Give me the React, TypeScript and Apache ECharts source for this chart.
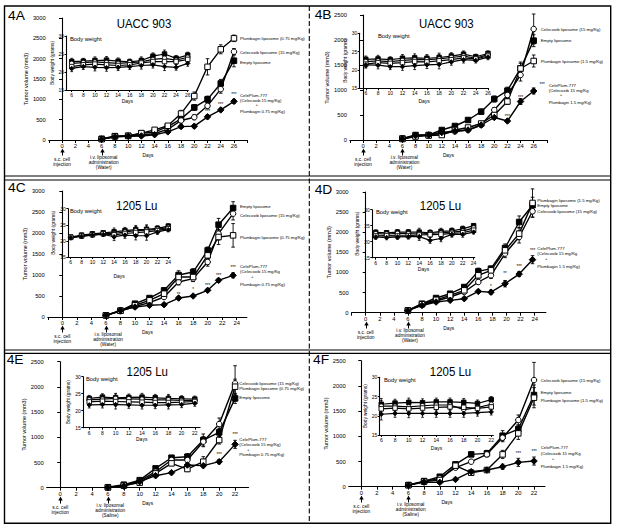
import React, { useEffect, useRef } from "react";
import * as echarts from "echarts";

const FONT = "Liberation Sans, Arial, Helvetica, sans-serif";

// ---------------- 4A  UACC 903 ----------------
const daysA = [6, 8, 10, 12, 14, 16, 18, 20, 22, 24, 26];
const aEmpty = [30, 95, 105, 160, 200, 330, 520, 800, 1000, 1390, 1950];
const aEmptyErr = [10, 20, 20, 30, 35, 45, 60, 70, 80, 100, 150];
const aCele = [25, 80, 100, 120, 160, 260, 480, 560, 840, 1250, 2170];
const aCeleErr = [10, 20, 20, 25, 30, 40, 60, 60, 70, 100, 80];
const aPlum = [20, 90, 100, 170, 250, 350, 650, 1080, 1800, 2230, 2500];
const aPlumErr = [10, 20, 20, 30, 40, 50, 80, 100, 200, 110, 80];
const aCombo = [20, 80, 90, 100, 130, 200, 330, 340, 570, 740, 950];
const aComboErr = [10, 15, 15, 20, 25, 30, 40, 40, 50, 40, 50];
const aSig = [[22, 690, "***"], [24, 880, "***"], [26, 1110, "***"]];
const aInDays = [6, 8, 10, 12, 14, 16, 18, 20, 22, 24, 26];
const aIn1 = [22.9, 23.0, 23.2, 23.3, 23.0, 22.8, 23.2, 24.4, 25.0, 23.8, 24.7];
const aIn2 = [22.4, 22.6, 22.8, 22.6, 22.4, 22.6, 22.8, 23.5, 23.8, 23.3, 24.1];
const aIn3 = [21.5, 22.0, 22.2, 22.0, 21.8, 22.0, 22.5, 22.9, 22.9, 22.9, 23.5];
const aIn4 = [21.0, 21.5, 21.3, 21.2, 21.3, 21.5, 21.8, 22.0, 21.5, 21.3, 22.4];
const aInErr = [0.9, 0.8, 1.0, 1.0, 0.9, 0.8, 1.0, 0.9, 1.1, 0.8, 0.8];
const aLegend = ["Plumbagin liposome (0.75 mg/Kg)", "Celecoxib liposome (15 mg/Kg)", "Empty liposome", "CelePlum-777", "(Celecoxib 15 mg/Kg)", "+", "Plumbagin 0.75 mg/Kg)"];

// ---------------- 4B  UACC 903 ----------------
const daysB = [6, 8, 10, 12, 14, 16, 18, 20, 22, 24, 26];
const bEmpty = [30, 100, 100, 200, 280, 400, 567, 820, 987, 1433, 1987];
const bEmptyErr = [10, 20, 20, 30, 30, 40, 50, 60, 70, 100, 120];
const bCele = [25, 80, 100, 130, 170, 200, 300, 600, 900, 1300, 2220];
const bCeleErr = [10, 15, 20, 20, 25, 30, 40, 50, 70, 120, 300];
const bPlum = [20, 70, 90, 100, 200, 250, 330, 500, 770, 1430, 1580];
const bPlumErr = [10, 15, 20, 20, 25, 30, 40, 50, 60, 130, 120];
const bCombo = [20, 90, 100, 150, 180, 200, 300, 450, 380, 770, 980];
const bComboErr = [10, 15, 15, 20, 20, 25, 30, 40, 30, 60, 60];
const bSig = [[22, 480, "***"], [24, 850, "***"], [27.3, 1110, "***"]];
const bInDays = [6, 8, 10, 12, 14, 16, 18, 20, 22, 24, 26];
const bIn1 = [22.9, 23.0, 22.8, 23.2, 23.3, 23.2, 23.4, 23.8, 24.3, 23.6, 24.5];
const bIn2 = [22.3, 22.5, 22.3, 22.6, 22.8, 22.8, 23.0, 23.4, 23.8, 23.2, 24.2];
const bIn3 = [21.6, 22.0, 21.8, 22.0, 22.3, 22.2, 22.5, 22.8, 23.3, 23.0, 23.8];
const bIn4 = [21.4, 21.3, 20.9, 20.9, 21.2, 21.4, 21.5, 22.2, 22.8, 22.6, 23.5];
const bInErr = [0.9, 1.0, 0.8, 1.0, 1.1, 1.0, 1.2, 0.9, 0.9, 0.7, 0.7];
const bLegend = ["Celecoxib liposome (15 mg/Kg)", "Empty liposome", "Plumbagin liposome (1.5 mg/Kg)", "CelePlum-777", "(Celecoxib 15 mg/Kg", "+", "Plumbagin 1.5 mg/Kg)"];

// ---------------- 4C  1205 Lu ----------------
const daysC = [6, 8, 10, 12, 14, 16, 18, 20, 21.5, 23.5];
const cEmpty = [40, 150, 317, 452, 635, 1000, 1071, 1587, 2198, 2595];
const cEmptyErr = [15, 20, 30, 40, 50, 100, 80, 80, 150, 150];
const cCele = [35, 140, 250, 341, 476, 833, 913, 1310, 1984, 2460];
const cCeleErr = [15, 20, 25, 30, 40, 70, 70, 100, 150, 150];
const cPlum = [40, 150, 280, 397, 555, 952, 952, 1468, 1905, 1944];
const cPlumErr = [15, 20, 25, 30, 40, 70, 100, 100, 180, 280];
const cCombo = [40, 159, 238, 278, 294, 452, 500, 635, 873, 992];
const cComboErr = [15, 20, 20, 25, 25, 30, 30, 30, 40, 60];
const cSig = [[16, 540, "**"], [18, 660, "*"], [20, 760, "***"], [21.5, 1000, "***"], [23.5, 1190, "***"]];
const cInDays = [6, 8, 10, 12, 14, 16, 18, 20, 22, 24];
const cIn1 = [21.2, 21.8, 22.2, 22.5, 22.8, 23.2, 23.5, 23.6, 23.9, 24.6];
const cIn2 = [21.0, 21.6, 22.0, 22.3, 22.3, 22.8, 23.2, 23.3, 23.6, 24.2];
const cIn3 = [21.1, 21.5, 21.9, 22.2, 21.9, 22.3, 22.6, 22.8, 23.2, 23.8];
const cIn4 = [21.0, 21.4, 21.8, 22.0, 21.3, 21.8, 21.6, 21.6, 22.8, 23.5];
const cInErr = [0.5, 0.6, 0.6, 0.6, 1.2, 1.0, 1.3, 1.4, 0.8, 0.7];
const cLegend = ["Empty liposome", "Celecoxib liposome (15 mg/Kg)", "Plumbagin liposome (0.75 mg/Kg)", "CelePlum-777", "(Celecoxib 15 mg/Kg", "+", "Plumbagin 0.75 mg/Kg)"];

// ---------------- 4D  1205 Lu ----------------
const daysD = [6, 8, 10, 12, 14, 16, 17.8, 19.8, 21.8, 23.7];
const dEmpty = [58, 224, 365, 472, 638, 1028, 1094, 1609, 2255, 2670];
const dEmptyErr = [15, 30, 30, 40, 50, 80, 60, 100, 150, 200];
const dCele = [50, 200, 290, 390, 514, 763, 929, 1468, 1882, 2521];
const dCeleErr = [15, 30, 30, 30, 40, 60, 80, 100, 150, 150];
const dPlum = [55, 210, 320, 431, 556, 929, 1053, 1550, 1965, 2728];
const dPlumErr = [15, 30, 30, 40, 50, 70, 100, 100, 150, 350];
const dCombo = [50, 180, 265, 307, 348, 530, 510, 721, 960, 1318];
const dComboErr = [15, 25, 25, 30, 30, 30, 50, 80, 60, 100];
const dSig = [[17.8, 640, "*"], [19.8, 970, "**"], [21.8, 1150, "***"], [23.7, 1550, "***"]];
const dInDays = [6, 8, 10, 12, 14, 16, 18, 20, 22, 24];
const dIn1 = [22.9, 22.8, 23.0, 23.0, 23.0, 22.8, 23.2, 23.4, 24.0, 25.0];
const dIn2 = [22.5, 22.4, 22.6, 22.5, 22.4, 22.6, 22.8, 23.0, 23.3, 24.3];
const dIn3 = [21.8, 21.9, 21.8, 21.9, 22.1, 22.2, 22.3, 22.6, 22.8, 23.6];
const dIn4 = [21.5, 21.3, 21.5, 21.6, 21.6, 20.4, 21.0, 22.3, 22.3, 23.0];
const dInErr = [0.8, 0.7, 0.8, 0.8, 1.2, 0.9, 1.0, 0.9, 0.9, 0.6];
const dLegend = ["Plumbagin liposome (1.5 mg/Kg)", "Empty liposome", "Celecoxib liposome (15 mg/Kg)", "CelePlum-777", "(Celecoxib 15 mg/Kg", "+", "Plumbagin 1.5 mg/Kg)"];

// ---------------- 4E  1205 Lu ----------------
const daysE = [6, 8, 10, 12, 14, 16, 18, 20, 22];
const eEmpty = [10, 60, 150, 384, 595, 615, 946, 1098, 1772];
const eEmptyErr = [5, 15, 25, 30, 40, 60, 120, 80, 100];
const eCele = [5, 50, 130, 317, 549, 549, 913, 1263, 2070];
const eCeleErr = [5, 15, 20, 30, 40, 50, 100, 120, 350];
const ePlum = [5, 40, 100, 284, 483, 370, 516, 946, 2004];
const ePlumErr = [5, 15, 20, 30, 40, 50, 100, 80, 150];
const eCombo = [5, 30, 120, 238, 298, 450, 437, 516, 860];
const eComboErr = [5, 10, 15, 20, 20, 40, 40, 40, 80];
const eSig = [[20, 665, "***"], [22, 1050, "***"]];
const eInDays = [6, 8, 10, 12, 14, 16, 18, 20, 22];
const eIn1 = [23.6, 24.0, 23.8, 23.9, 24.0, 23.8, 23.6, 23.5, 23.4];
const eIn2 = [23.2, 23.4, 23.6, 23.5, 23.4, 23.2, 23.2, 23.0, 23.0];
const eIn3 = [22.6, 22.8, 22.7, 22.6, 22.5, 22.4, 22.4, 22.5, 22.7];
const eIn4 = [21.7, 21.8, 21.8, 21.7, 21.6, 21.6, 21.7, 21.8, 22.2];
const eInErr = [0.9, 1.0, 1.3, 1.0, 1.1, 1.0, 1.2, 0.9, 0.9];
const eLegend = ["Celecoxib liposome (15 mg/Kg)", "Plumbagin liposome (0.75 mg/Kg)", "Empty liposome", "CelePlum-777", "(Celecoxib 15 mg/Kg)", "+", "Plumbagin 0.75 mg/Kg)"];

// ---------------- 4F  1205 Lu ----------------
const daysF = [6, 8, 10, 12, 14, 16, 18, 20, 22];
const fEmpty = [33, 112, 198, 443, 641, 661, 1012, 1144, 1819];
const fEmptyErr = [10, 15, 25, 30, 30, 60, 100, 80, 200];
const fCele = [30, 100, 165, 377, 496, 641, 972, 1323, 2116];
const fCeleErr = [10, 15, 20, 30, 30, 50, 80, 100, 350];
const fPlum = [30, 100, 132, 417, 278, 331, 641, 1058, 1766];
const fPlumErr = [10, 15, 20, 30, 30, 40, 80, 120, 200];
const fCombo = [30, 90, 86, 145, 298, 331, 397, 483, 509];
const fComboErr = [10, 15, 15, 20, 30, 30, 50, 80, 80];
const fSig = [[20, 665, "***"], [22, 690, "***"]];
const fInDays = [6, 8, 10, 12, 14, 16, 18, 20, 22];
const fIn1 = [23.0, 23.3, 23.5, 23.4, 23.6, 23.6, 23.5, 23.2, 24.2];
const fIn2 = [22.5, 22.5, 22.3, 22.6, 22.8, 22.8, 21.6, 22.1, 23.0];
const fIn3 = [21.8, 22.0, 21.8, 22.0, 22.2, 22.3, 22.2, 21.9, 22.3];
const fIn4 = [20.4, 20.6, 20.6, 20.6, 20.6, 20.6, 20.6, 20.8, 21.0];
const fInErr = [1.5, 1.0, 1.1, 1.0, 1.0, 1.0, 1.0, 0.9, 0.8];
const fLegend = ["Celecoxib liposome (15 mg/Kg)", "Empty liposome", "Plumbagin liposome (1.5 mg/Kg)", "CelePlum-777", "(Celecoxib 15 mg/Kg", "+", "Plumbagin 1.5 mg/Kg)"];

const kindStyle: any = {
  empty: { symbol: "rect", fill: "#000" },
  cele: { symbol: "circle", fill: "#fff" },
  plum: { symbol: "rect", fill: "#fff" },
  combo: { symbol: "diamond", fill: "#000" },
};

const panels: any[] = [
  {
    tag: "4A", title: "UACC 903", vehicle: "(Water)", days: daysA, sig: aSig, legend: aLegend,
    series: [
      { kind: "empty", v: aEmpty, e: aEmptyErr }, { kind: "cele", v: aCele, e: aCeleErr },
      { kind: "plum", v: aPlum, e: aPlumErr }, { kind: "combo", v: aCombo, e: aComboErr },
    ],
    inDays: aInDays, inSeries: [["empty", aIn1], ["cele", aIn2], ["plum", aIn3], ["combo", aIn4]], inErr: aInErr,
    main: { left: 48.8, top: 18, width: 198.4, height: 122, xMin: -2, xMax: 28, yMax: 3000, last: 26, gapY: 19 },
    inset: { left: 66.5, top: 36, width: 121.8, height: 54, xMin: 5.1, xMax: 26.1, last: 26, gapX: 8 },
    titlePos: [144, 23.7], tagPos: [8, 16], bw: [70, 38.5],
    lx: 240, cx: 240, ly: [38, 52, 62, 95, 100, 104.3, 111.7], px: 256.7,
  },
  {
    tag: "4B", title: "UACC 903", vehicle: "(Water)", days: daysB, sig: bSig, legend: bLegend,
    series: [
      { kind: "empty", v: bEmpty, e: bEmptyErr }, { kind: "cele", v: bCele, e: bCeleErr },
      { kind: "plum", v: bPlum, e: bPlumErr }, { kind: "combo", v: bCombo, e: bComboErr },
    ],
    inDays: bInDays, inSeries: [["empty", bIn1], ["cele", bIn2], ["plum", bIn3], ["combo", bIn4]], inErr: bInErr,
    main: { left: 349.9, top: 15, width: 196.9, height: 125, xMin: -2, xMax: 28, yMax: 2500, last: 26, gapY: 18 },
    inset: { left: 359.7, top: 33.3, width: 128.9, height: 55, xMin: 5.0, xMax: 26.1, last: 26, gapX: 10 },
    titlePos: [446.3, 23.3], tagPos: [314.7, 15.2], bw: [378, 35.5],
    lx: 540.7, cx: 548.7, ly: [29, 40.7, 61.7, 85, 90, 94.3, 102.7], px: 561,
  },
  {
    tag: "4C", title: "1205 Lu", vehicle: "(Water)", days: daysC, sig: cSig, legend: cLegend,
    series: [
      { kind: "empty", v: cEmpty, e: cEmptyErr }, { kind: "cele", v: cCele, e: cCeleErr },
      { kind: "plum", v: cPlum, e: cPlumErr }, { kind: "combo", v: cCombo, e: cComboErr },
    ],
    inDays: cInDays, inSeries: [["empty", cIn1], ["cele", cIn2], ["plum", cIn3], ["combo", cIn4]], inErr: cInErr,
    main: { left: 47.8, top: 191, width: 199.1, height: 126, xMin: -2, xMax: 25.4, yMax: 3000, last: 24, gapY: 16 },
    inset: { left: 68.3, top: 208.7, width: 101.6, height: 48.3, xMin: 5.55, xMax: 24.3, last: 24, gapX: 16 },
    titlePos: [136.7, 205.3], tagPos: [8, 188], bw: [70, 211],
    lx: 240, cx: 240, ly: [206.3, 215.3, 237.7, 266.5, 271.5, 276.3, 284.3], px: 252.3,
  },
  {
    tag: "4D", title: "1205 Lu", vehicle: "(Water)", days: daysD, sig: dSig, legend: dLegend,
    series: [
      { kind: "empty", v: dEmpty, e: dEmptyErr }, { kind: "cele", v: dCele, e: dCeleErr },
      { kind: "plum", v: dPlum, e: dPlumErr }, { kind: "combo", v: dCombo, e: dComboErr },
    ],
    inDays: dInDays, inSeries: [["empty", dIn1], ["cele", dIn2], ["plum", dIn3], ["combo", dIn4]], inErr: dInErr,
    main: { left: 351.6, top: 192, width: 194.3, height: 120.7, xMin: -2, xMax: 25.6, yMax: 3000, last: 24, gapY: 18 },
    inset: { left: 372.3, top: 209.7, width: 102.4, height: 48, xMin: 5.37, xMax: 24.2, last: 24, gapX: 8.5 },
    titlePos: [440.5, 205.3], tagPos: [314.7, 190], bw: [376, 212],
    lx: 537.3, cx: 537.3, ly: [200.3, 205.7, 211.3, 248.7, 253.7, 258, 266.3], px: 546.3,
  },
  {
    tag: "4E", title: "1205 Lu", vehicle: "(Saline)", days: daysE, sig: eSig, legend: eLegend,
    series: [
      { kind: "empty", v: eEmpty, e: eEmptyErr }, { kind: "cele", v: eCele, e: eCeleErr },
      { kind: "plum", v: ePlum, e: ePlumErr }, { kind: "combo", v: eCombo, e: eComboErr },
    ],
    inDays: eInDays, inSeries: [["empty", eIn1], ["cele", eIn2], ["plum", eIn3], ["combo", eIn4]], inErr: eInErr,
    main: { left: 46.7, top: 361.7, width: 201.9, height: 126, xMin: -1.7, xMax: 23.7, yMax: 2500, last: 22, gapY: 19 },
    inset: { left: 83.3, top: 376.7, width: 116.8, height: 51, xMin: 5.1, xMax: 22.8, last: 22, gapX: 9 },
    titlePos: [147.2, 371.7], tagPos: [6.7, 360.3], bw: [86, 378.5],
    lx: 239.3, cx: 239.3, ly: [383.3, 388.3, 397.7, 439.3, 444.3, 449.3, 454.3], px: 248.3,
  },
  {
    tag: "4F", title: "1205 Lu", vehicle: "(Saline)", days: daysF, sig: fSig, legend: fLegend,
    series: [
      { kind: "empty", v: fEmpty, e: fEmptyErr }, { kind: "cele", v: fCele, e: fCeleErr },
      { kind: "plum", v: fPlum, e: fPlumErr }, { kind: "combo", v: fCombo, e: fComboErr },
    ],
    inDays: fInDays, inSeries: [["empty", fIn1], ["cele", fIn2], ["plum", fIn3], ["combo", fIn4]], inErr: fInErr,
    main: { left: 348.7, top: 360.7, width: 196.3, height: 126, xMin: -1.6, xMax: 23.4, yMax: 2500, last: 22, gapY: 19 },
    inset: { left: 379.7, top: 377.3, width: 113.6, height: 57.7, xMin: 5.77, xMax: 22.3, last: 22, gapX: 10 },
    titlePos: [450.5, 371.7], tagPos: [313, 360], bw: [384, 379.5],
    lx: 540.7, cx: 540.7, ly: [380, 392.7, 400, 447.7, 453.3, 458.3, 466.7], px: 553,
  },
];

const evens = (a: number, b: number, from?: number) => {
  const r: number[] = [];
  const start = from !== undefined ? from : Math.ceil(a / 2) * 2;
  for (let v = start; v <= b + 1e-9; v += 2) r.push(v);
  return r;
};

const errRender = (cap: number, lw: number) => (params: any, api: any) => {
  const x = api.value(0), y = api.value(1), e = api.value(2);
  const lo = api.coord([x, y - e]);
  const hi = api.coord([x, y + e]);
  const st = { stroke: "#000", lineWidth: lw };
  return {
    type: "group",
    children: [
      { type: "line", shape: { x1: lo[0], y1: lo[1], x2: hi[0], y2: hi[1] }, style: st },
      { type: "line", shape: { x1: lo[0] - cap, y1: lo[1], x2: lo[0] + cap, y2: lo[1] }, style: st },
      { type: "line", shape: { x1: hi[0] - cap, y1: hi[1], x2: hi[0] + cap, y2: hi[1] }, style: st },
    ],
  };
};

const sigRender = (items: any[]) => (params: any, api: any) => {
  const it = items[params.dataIndex];
  const p = api.coord([it[0], it[1]]);
  return {
    type: "text", x: p[0], y: p[1],
    style: { text: String(it[2]), fontSize: 4.5, fill: "#000", align: "center", verticalAlign: "middle", fontFamily: FONT },
  };
};

const axisLine = { show: true, lineStyle: { color: "#000", width: 1.1 } };
const plain = (v: number) => String(v);

function buildOption() {
  const grid: any[] = [], xAxis: any[] = [], yAxis: any[] = [], series: any[] = [], graphic: any[] = [];
  const txt = (x: number, y: number, text: string, fontSize: number, align = "left", extra: any = {}) => ({
    type: "text", x, y, silent: true, ...extra,
    style: { text, fontSize, fill: "#000", align, verticalAlign: "middle", fontFamily: FONT },
  });

  panels.forEach((p, i) => {
    const m = p.main, n = p.inset;
    const mi = 2 * i, ii = 2 * i + 1;
    grid.push({ left: m.left, top: m.top, width: m.width, height: m.height });
    grid.push({ left: n.left, top: n.top, width: n.width, height: n.height });

    xAxis.push({
      type: "value", gridIndex: mi, min: m.xMin, max: m.xMax,
      axisLine, splitLine: { show: false },
      axisTick: { show: true, customValues: evens(m.xMin, m.xMax), length: 3, lineStyle: { color: "#000", width: 1 } },
      axisLabel: { customValues: evens(0, m.last, 0), fontSize: 5.8, color: "#000", margin: 3, fontFamily: FONT, formatter: plain },
      name: "Days", nameLocation: "middle", nameGap: 13,
      nameTextStyle: { fontSize: 4.8, color: "#000", fontFamily: FONT },
    });
    xAxis.push({
      type: "value", gridIndex: ii, min: n.xMin, max: n.xMax,
      axisLine, splitLine: { show: false },
      axisTick: { show: true, customValues: evens(6, n.last, 6), length: 2, lineStyle: { color: "#000", width: 1 } },
      axisLabel: { customValues: evens(6, n.last, 6), fontSize: 5, color: "#000", margin: 2.5, fontFamily: FONT, formatter: plain },
      name: "Days", nameLocation: "middle", nameGap: n.gapX,
      nameTextStyle: { fontSize: 5, color: "#000", fontFamily: FONT },
    });
    yAxis.push({
      type: "value", gridIndex: mi, min: 0, max: m.yMax, interval: 500,
      axisLine, splitLine: { show: false },
      axisTick: { show: true, length: 3, lineStyle: { color: "#000", width: 1 } },
      axisLabel: { fontSize: 5.8, color: "#000", margin: 3, fontFamily: FONT, formatter: plain },
      name: "Tumor volume (mm3)", nameLocation: "middle", nameGap: m.gapY,
      nameTextStyle: { fontSize: 5.5, color: "#000", fontFamily: FONT },
    });
    yAxis.push({
      type: "value", gridIndex: ii, min: 15, max: 30, interval: 5,
      axisLine, splitLine: { show: false },
      axisTick: { show: true, length: 2, lineStyle: { color: "#000", width: 1 } },
      axisLabel: { fontSize: 5, color: "#000", margin: 2.5, fontFamily: FONT, formatter: plain },
      name: "Body weight (grams)", nameLocation: "middle", nameGap: 11,
      nameTextStyle: { fontSize: 4.8, color: "#000", fontFamily: FONT },
    });

    // main series
    p.series.forEach((s: any) => {
      const st = kindStyle[s.kind];
      series.push({
        type: "custom", xAxisIndex: mi, yAxisIndex: mi, silent: true, z: 2,
        renderItem: errRender(1.8, 0.9), encode: { x: 0, y: 1 },
        data: p.days.map((d: number, k: number) => [d, s.v[k], s.e[k]]),
      });
      series.push({
        type: "line", xAxisIndex: mi, yAxisIndex: mi, silent: true, z: 3,
        data: p.days.map((d: number, k: number) => [d, s.v[k]]),
        symbol: st.symbol, symbolSize: s.kind === "combo" ? 6.5 : 5.5, showSymbol: true,
        itemStyle: { color: st.fill, borderColor: "#000", borderWidth: 1 },
        lineStyle: { color: "#000", width: 1.4 },
      });
    });
    series.push({
      type: "custom", xAxisIndex: mi, yAxisIndex: mi, silent: true, z: 4,
      renderItem: sigRender(p.sig), encode: { x: 0, y: 1 },
      data: p.sig.map((s: any) => [s[0], s[1]]),
    });

    // inset series
    p.inSeries.forEach((s: any) => {
      const st = kindStyle[s[0]];
      const vals = s[1];
      series.push({
        type: "custom", xAxisIndex: ii, yAxisIndex: ii, silent: true, z: 2,
        renderItem: errRender(1.4, 0.8), encode: { x: 0, y: 1 },
        data: p.inDays.map((d: number, k: number) => [d, vals[k], p.inErr[k]]),
      });
      series.push({
        type: "line", xAxisIndex: ii, yAxisIndex: ii, silent: true, z: 3,
        data: p.inDays.map((d: number, k: number) => [d, vals[k]]),
        symbol: st.symbol, symbolSize: 4.5, showSymbol: true,
        itemStyle: { color: st.fill, borderColor: "#000", borderWidth: 0.9 },
        lineStyle: { color: "#000", width: 1.2 },
      });
    });

    // texts
    graphic.push(txt(p.tagPos[0], p.tagPos[1], p.tag, 12, "left", { scaleX: 1.15 }));
    graphic.push(txt(p.titlePos[0], p.titlePos[1], p.title, 13, "center", { scaleX: 0.88 }));
    graphic.push(txt(p.bw[0], p.bw[1], "Body weight", 5.8));
    p.legend.forEach((t: string, k: number) => {
      const x = k === 5 ? p.px : k >= 3 ? p.cx : p.lx;
      graphic.push(txt(x, p.ly[k], t, 4.3, k === 5 ? "center" : "left"));
    });

    // annotations under x axis: upward arrows at day 0 and day 6
    const ax = (d: number) => m.left + ((d - m.xMin) / (m.xMax - m.xMin)) * m.width;
    const ay = Math.round(m.top + m.height);
    [0, 6].forEach((d) => {
      const x = Math.round(ax(d));
      graphic.push({
        type: "group", silent: true, z: 20,
        children: [
          {
            type: "polygon",
            shape: { points: [[x + 0.5, ay + 8.5], [x - 1.7, ay + 12.5], [x + 2.7, ay + 12.5]] },
            style: { fill: "#000000", stroke: "none" },
          },
          {
            type: "rect",
            shape: { x: x, y: ay + 11.5, width: 1, height: 4 },
            style: { fill: "#000000", stroke: "none" },
          },
        ],
      });
    });
    graphic.push(txt(ax(0), ay + 19.5, "s.c. cell", 4.8, "center"));
    graphic.push(txt(ax(0), ay + 24.5, "injection", 4.8, "center"));
    graphic.push(txt(ax(6.3), ay + 17.5, "i.v. liposomal", 4.8, "center"));
    graphic.push(txt(ax(6.3), ay + 22.5, "administration", 4.8, "center"));
    graphic.push(txt(ax(6.3), ay + 27.7, p.vehicle, 4.8, "center"));
  });

  // frames
  const frame = { stroke: "#000", lineWidth: 1.4, fill: "none" };
  graphic.push({ type: "rect", silent: true, shape: { x: 4.5, y: 6, width: 606.2, height: 517.3 }, style: frame });
  [176, 180, 350, 353.3].forEach((y) => {
    graphic.push({ type: "line", silent: true, shape: { x1: 4.5, y1: y, x2: 610.7, y2: y }, style: { stroke: "#000", lineWidth: 1.2 } });
  });
  graphic.push({
    type: "line", silent: true, shape: { x1: 309.3, y1: 6, x2: 309.3, y2: 523.3 },
    style: { stroke: "#000", lineWidth: 1.1, lineDash: [5, 2.5] },
  });

  return {
    animation: false,
    backgroundColor: "#fff",
    textStyle: { fontFamily: FONT },
    grid, xAxis, yAxis, series, graphic,
  };
}

export default function App() {
  const ref = useRef<HTMLDivElement>(null);
  useEffect(() => {
    document.body.style.margin = "0";
    if (!ref.current) return;
    const chart = echarts.init(ref.current, undefined, { renderer: "svg" });
    chart.setOption(buildOption() as any);
    return () => chart.dispose();
  }, []);
  return <div ref={ref} style={{ width: 617, height: 530 }} />;
}
